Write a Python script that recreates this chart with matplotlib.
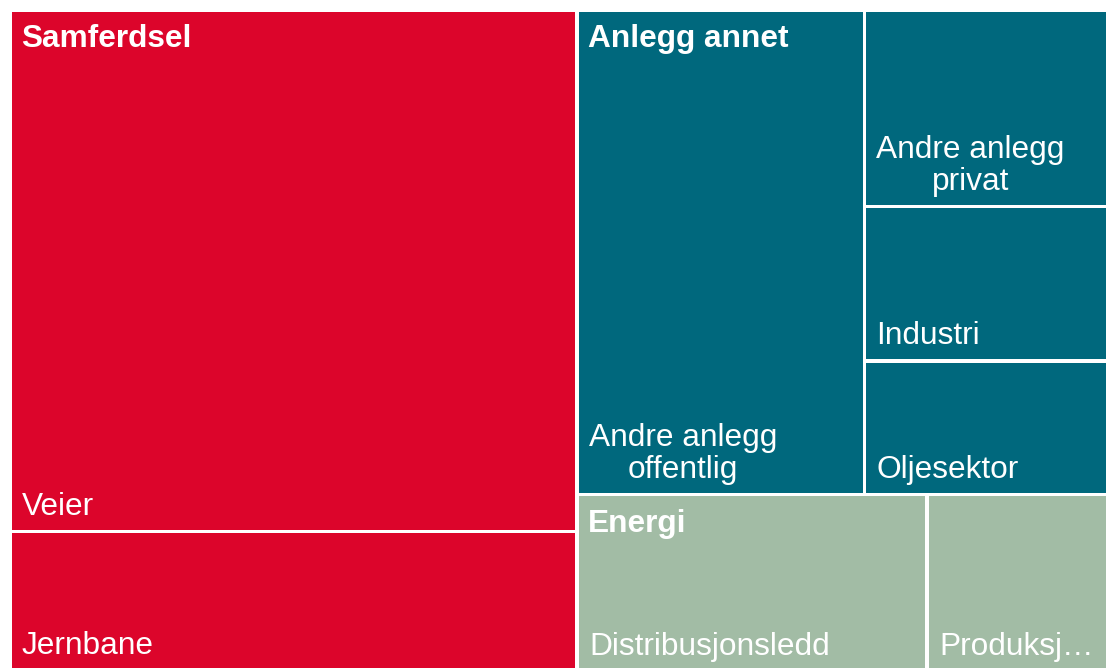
import matplotlib
matplotlib.use("Agg")
import matplotlib.pyplot as plt
from matplotlib.patches import Rectangle

# treemap data (share of total)
groups = ["Samferdsel", "Anlegg annet", "Energi"]
group_colors = ["#DC052B", "#00687D", "#A2BCA5"]
children = [
    ["Veier", "Jernbane"],
    ["Andre anlegg\noffentlig", "Andre anlegg\nprivat", "Industri", "Oljesektor"],
    ["Distribusjonsledd", "Produksj…"],
]
values = [
    [40.8, 10.9],
    [19.2, 6.6, 5.2, 4.5],
    [8.5, 4.4],
]


def _worst(row, side):
    s = sum(row)
    return max(max(side * side * r / (s * s), s * s / (side * side * r)) for r in row)


def squarify(vals, x, y, dx, dy):
    total = sum(vals)
    areas = [v * dx * dy / total for v in vals]
    rects = []
    while areas:
        side = min(dx, dy)
        row = [areas.pop(0)]
        while areas and _worst(row + [areas[0]], side) <= _worst(row, side):
            row.append(areas.pop(0))
        s = sum(row)
        if dx >= dy:
            cw = s / dy
            yy = y
            for a in row:
                h = a / cw
                rects.append((x, yy, cw, h))
                yy += h
            x += cw
            dx -= cw
        else:
            rh = s / dx
            xx = x
            for a in row:
                w = a / rh
                rects.append((xx, y, w, rh))
                xx += w
            y += rh
            dy -= rh
    return rects


fig = plt.figure(figsize=(11.06, 6.68), dpi=100)
ax = fig.add_axes([0, 0, 1, 1])
ax.set_xlim(0, 1106)
ax.set_ylim(668, 0)
ax.axis("off")

font = "Liberation Sans"
fs = 22.8
gap = 1.6

group_rects = squarify([sum(v) for v in values], 10, 10, 1098, 661)
for (gx, gy, gw, gh), name, color, kids, vals in zip(group_rects, groups, group_colors, children, values):
    for (cx, cy, cw, ch), kid in zip(squarify(vals, gx, gy, gw, gh), kids):
        ax.add_patch(Rectangle((cx + gap, cy + gap), cw - 2 * gap, ch - 2 * gap,
                               facecolor=color, edgecolor="none"))
        ax.text(cx + 12, cy + ch - 9.5, kid, color="white", fontsize=fs, family=font,
                ha="left", va="bottom", multialignment="center", linespacing=1.1)
    ax.text(gx + 11, gy + 37, name, color="white", fontsize=fs, family=font,
            fontweight="bold", ha="left", va="baseline")

fig.savefig("out.png", dpi=100)
